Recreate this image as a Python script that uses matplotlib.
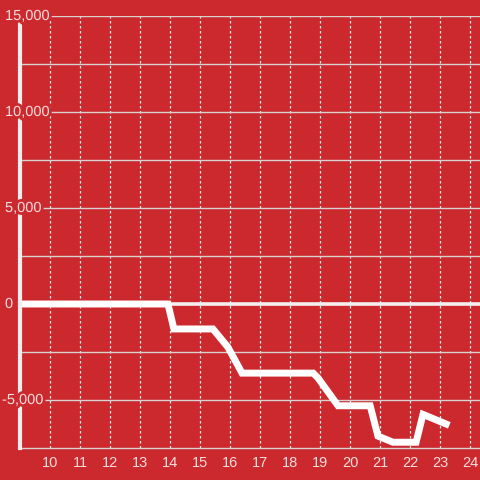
import numpy as np
import matplotlib.pyplot as plt
import matplotlib.patheffects as pe

plt.rcParams['font.family'] = ['Liberation Sans', 'DejaVu Sans']

# data
hours = [9.0, 13.93, 14.13, 15.43, 15.93, 16.4, 18.77, 18.93, 19.6, 20.67,
         20.93, 21.43, 22.2, 22.43, 23.2]
values = [0, 0, -1300, -1300, -2250, -3600, -3600, -3850, -5300, -5300,
          -6880, -7200, -7200, -5750, -6250]
x_ticks = list(range(10, 25))
y_ticks = [-5000, 0, 5000, 10000, 15000]

bg = '#cc292e'
txt = '#f4dede'

fig = plt.figure(figsize=(4.8, 4.8), dpi=100, facecolor=bg)
ax = fig.add_axes([20 / 480, 32 / 480, 460 / 480, 432 / 480])
ax.set_facecolor(bg)

ax.set_xlim(9.0, 24.33)
ax.set_ylim(-7500, 15000)

# grid
for x in x_ticks:
    ax.axvline(x, color='#f3eaea', lw=0.9, ls=(0, (2, 2)), zorder=1)
for y in np.arange(-5000, 15001, 2500):
    ax.axhline(y, color='#d9d0d0', lw=1.0, zorder=1)
ax.axhline(0, color='#f4eeee', lw=2.6, zorder=2)

ax.plot(hours, values, color='white', lw=5, solid_joinstyle='miter', zorder=3)

for s in ['top', 'right']:
    ax.spines[s].set_visible(False)
ax.spines['left'].set_color('#f2ecec')
ax.spines['left'].set_linewidth(3)
ax.spines['left'].set_zorder(4)
ax.spines['bottom'].set_color('#d9d0d0')
ax.spines['bottom'].set_linewidth(1.0)

ax.set_xticks(x_ticks)
ax.set_xticklabels([str(x) for x in x_ticks])
ax.tick_params(axis='x', length=0, pad=6, colors=txt, labelsize=10.5)

# y labels sit over the axis line, with a halo in the background colour
ax.set_yticks([])
for y in y_ticks:
    xpx = 2 if y < 0 else 5
    ax.text(xpx / 480, y, f'{y:,}', transform=ax.get_yaxis_transform().__class__(fig.transFigure, ax.transData),
            ha='left', va='center', color=txt, fontsize=10.5, zorder=5,
            path_effects=[pe.withStroke(linewidth=4, foreground=bg)])

fig.savefig('out.png', dpi=100, facecolor=bg)
